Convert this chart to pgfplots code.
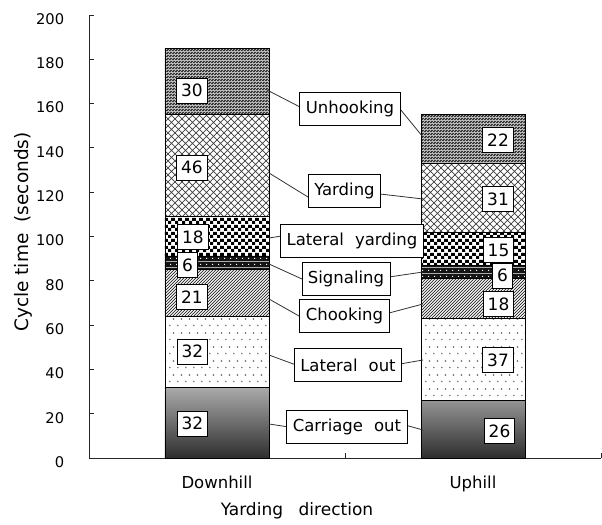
\documentclass[border=0pt]{standalone}
\usepackage{fontspec}
\setmainfont{DejaVu Sans}
\usepackage{pgfplots}
\pgfplotsset{compat=1.18}
\usetikzlibrary{patterns}

\pgfdeclarepatterninherentlycolored{latout}{\pgfpointorigin}{\pgfpoint{8pt}{14pt}}{\pgfpoint{8pt}{14pt}}{%
  \pgfsetfillcolor{black!80}%
  \pgfpathrectangle{\pgfpoint{1.5pt}{3pt}}{\pgfpoint{1.3pt}{1.3pt}}%
  \pgfpathrectangle{\pgfpoint{5.5pt}{10pt}}{\pgfpoint{1.3pt}{1.3pt}}%
  \pgfusepath{fill}}
\pgfdeclarepatterninherentlycolored{chook}{\pgfpoint{-1pt}{-1pt}}{\pgfpoint{4pt}{4pt}}{\pgfpoint{3pt}{3pt}}{%
  \pgfsetstrokecolor{black!85}\pgfsetlinewidth{0.7pt}%
  \pgfpathmoveto{\pgfpoint{0pt}{0pt}}\pgfpathlineto{\pgfpoint{3.1pt}{3.1pt}}\pgfusepath{stroke}}
\pgfdeclarepatterninherentlycolored{signal}{\pgfpointorigin}{\pgfpoint{6pt}{6pt}}{\pgfpoint{6pt}{6pt}}{%
  \pgfsetfillcolor{black!92}%
  \pgfpathrectangle{\pgfpointorigin}{\pgfpoint{6pt}{6pt}}\pgfusepath{fill}%
  \pgfsetfillcolor{white}%
  \pgfpathrectangle{\pgfpoint{2.5pt}{2.5pt}}{\pgfpoint{1.1pt}{1.1pt}}\pgfusepath{fill}}
\pgfdeclarepatterninherentlycolored{checker}{\pgfpointorigin}{\pgfpoint{7pt}{7pt}}{\pgfpoint{7pt}{7pt}}{%
  \pgfsetfillcolor{black}%
  \pgfpathrectangle{\pgfpointorigin}{\pgfpoint{3.5pt}{3.5pt}}%
  \pgfpathrectangle{\pgfpoint{3.5pt}{3.5pt}}{\pgfpoint{3.5pt}{3.5pt}}%
  \pgfusepath{fill}}
\pgfdeclarepatterninherentlycolored{yard}{\pgfpoint{-1pt}{-1pt}}{\pgfpoint{8pt}{8pt}}{\pgfpoint{7pt}{7pt}}{%
  \pgfsetstrokecolor{black!75}\pgfsetlinewidth{0.65pt}%
  \pgfpathmoveto{\pgfpoint{0pt}{0pt}}\pgfpathlineto{\pgfpoint{7pt}{7pt}}%
  \pgfpathmoveto{\pgfpoint{0pt}{7pt}}\pgfpathlineto{\pgfpoint{7pt}{0pt}}%
  \pgfusepath{stroke}}
\pgfdeclarepatterninherentlycolored{unhook}{\pgfpointorigin}{\pgfpoint{3pt}{3pt}}{\pgfpoint{3pt}{3pt}}{%
  \pgfsetfillcolor{black!78}%
  \pgfpathrectangle{\pgfpointorigin}{\pgfpoint{3pt}{3pt}}\pgfusepath{fill}%
  \pgfsetfillcolor{black!30}%
  \pgfpathrectangle{\pgfpointorigin}{\pgfpoint{1pt}{1pt}}%
  \pgfpathrectangle{\pgfpoint{1.5pt}{1.5pt}}{\pgfpoint{1pt}{1pt}}%
  \pgfusepath{fill}}

\pgfplotstableread{
x    carriage lateralout chooking signaling latyard yarding unhooking
217  32       32         21       6         18      46      30
473  26       37         18       6         15      31      22
}\datatable

\begin{document}
\fontsize{17}{20}\selectfont
\begin{tikzpicture}[
  num/.style={draw=black, line width=0.8pt, fill=white, inner xsep=4.5pt, inner ysep=0pt, minimum height=25pt, font=\fontsize{17}{20}\selectfont},
  call/.style={draw=black, line width=0.8pt, fill=white, inner xsep=6pt, inner ysep=0pt, minimum height=33pt, font=\fontsize{16.5}{20}\selectfont},
  conn/.style={draw=black!80, line width=0.8pt}
]
\begin{axis}[
  name=ax,
  scale only axis, width=512pt, height=443pt,
  xmin=89, xmax=601, ymin=0, ymax=200,
  axis x line=bottom, axis y line=left, axis line style={-, line width=0.8pt, black!85},
  ybar stacked, bar width=104,
  ytick={0,20,...,200}, tick align=inside, major tick length=5pt,
  ytick style={line width=0.8pt, black!85},
  xtick={217,473}, xticklabels={Downhill,Uphill}, xtick style={draw=none},
  xticklabel style={yshift=-12pt, font=\fontsize{16.5}{19}\selectfont},
  yticklabel style={xshift=-19pt, yshift=-4pt, font=\fontsize{14.7}{18}\selectfont},
  /pgf/number format/assume math mode=true,
  clip=false,
  every axis plot/.append style={draw=black, line width=0.8pt},
]
\addplot[top color=black!33, bottom color=black!82] table[x=x, y=carriage] {\datatable};
\addplot[pattern=latout] table[x=x, y=lateralout] {\datatable};
\addplot[pattern=chook] table[x=x, y=chooking] {\datatable};
\addplot[pattern=signal] table[x=x, y=signaling] {\datatable};
\addplot[pattern=checker] table[x=x, y=latyard] {\datatable};
\addplot[pattern=yard] table[x=x, y=yarding] {\datatable};
\addplot[pattern=unhook] table[x=x, y=unhooking] {\datatable};
\end{axis}

% annotation layer in pixel coordinates of the 602 x 521 picture
\begin{scope}[shift={(ax.south west)}, xshift=-89pt, yshift=458pt, x=1pt, y=-1pt]
\path (0,0) rectangle (602,521);

% small ticks on the x axis
\draw[line width=0.8pt, black!85] (345,458) -- (345,453);
\draw[line width=0.8pt, black!85] (601,458) -- (601,453);

% axis labels
\node[rotate=90, font=\fontsize{18.5}{20}\selectfont] at (23,232) {Cycle time\hspace{0.6em}(seconds)};
\node at (297,511) {Yarding\hspace{0.6em} direction};

% connector lines
\draw[conn] (267,90) -- (300,107);
\draw[conn] (400,109) -- (423,137);
\draw[conn] (269,173) -- (308,197);
\draw[conn] (380,194) -- (423,199);
\draw[conn] (269,238) -- (288,235);
\draw[conn] (416,245) -- (423,250);
\draw[conn] (269,264) -- (302,279);
\draw[conn] (389,277) -- (423,272);
\draw[conn] (269,299) -- (299,316);
\draw[conn] (389,313) -- (423,304);
\draw[conn] (269,355) -- (296,365);
\draw[conn] (400,364) -- (423,360);
\draw[conn] (269,424) -- (289,427);
\draw[conn] (405,425) -- (423,430);

% callout boxes
\node[call] at (350,109) {Unhooking};
\node[call] at (344.5,191) {Yarding};
\node[call] at (352,241) {Lateral\hspace{0.35em} yarding};
\node[call] at (346,279) {Signaling};
\node[call] at (344.5,315.5) {Chooking};
\node[call] at (348,365) {Lateral\hspace{0.35em} out};
\node[call] at (347,427) {Carriage\hspace{0.35em} out};

% value boxes, Downhill
\node[num] at (192,90.5) {30};
\node[num] at (192,167.5) {46};
\node[num] at (193,237) {18};
\node[num] at (187.5,265) {6};
\node[num] at (192,297) {21};
\node[num] at (192.5,351.5) {32};
\node[num] at (192.5,423.5) {32};
% value boxes, Uphill
\node[num] at (498,140) {22};
\node[num] at (498,199) {31};
\node[num] at (498.5,250) {15};
\node[num] at (502.5,275.5) {6};
\node[num] at (498.5,304) {18};
\node[num] at (498,360) {37};
\node[num] at (499.5,431) {26};
\end{scope}
\end{tikzpicture}
\end{document}
